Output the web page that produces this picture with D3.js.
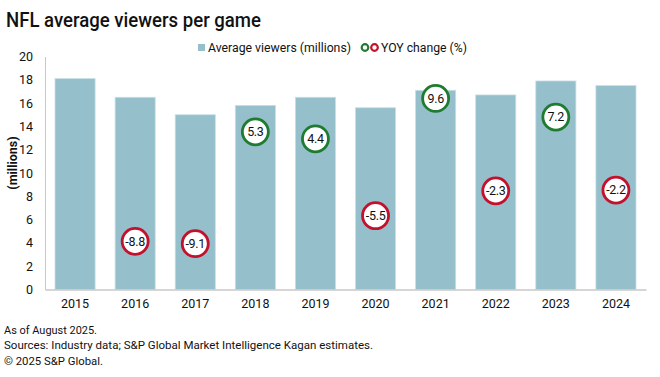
<!DOCTYPE html>
<html lang="en">
<head>
    <meta charset="UTF-8">
    <title>NFL average viewers per game</title>
    <script src="https://d3js.org/d3.v7.min.js"></script>
    <style>
        body { margin: 0; background: #fff; }
        text { font-family: Roboto, "Liberation Sans", sans-serif; fill: #111; }
    </style>
</head>
<body>
    <div id="chart"></div>

    <script>
        const years = ["2015", "2016", "2017", "2018", "2019", "2020", "2021", "2022", "2023", "2024"];
        const viewers = [18.1, 16.5, 15.0, 15.8, 16.5, 15.6, 17.1, 16.7, 17.9, 17.5];
        const yoy = [null, -8.8, -9.1, 5.3, 4.4, -5.5, 9.6, -2.3, 7.2, -2.2];
        const yTicks = [0, 2, 4, 6, 8, 10, 12, 14, 16, 18, 20];

        const width = 660;
        const height = 377;
        const margin = {top: 56.5, right: 14, bottom: 87.5, left: 45};

        const green = "#1e7b30";
        const red = "#c3102c";

        const svg = d3.select("#chart").append("svg")
            .attr("width", width)
            .attr("height", height);

        const x = d3.scaleBand()
            .domain(years)
            .range([margin.left, width - margin.right])
            .paddingInner(0.333)
            .paddingOuter(0.1667);

        const y = d3.scaleLinear()
            .domain([0, 20])
            .range([height - margin.bottom, margin.top]);

        // hidden secondary axis for the YOY circles
        const y2 = d3.scaleLinear()
            .domain([-15, 15])
            .range([height - margin.bottom, margin.top]);

        // title
        svg.append("text")
            .attr("x", 6)
            .attr("y", 27)
            .attr("font-size", 20)
            .attr("font-weight", 500)
            .attr("textLength", 255)
            .attr("lengthAdjust", "spacingAndGlyphs")
            .text("NFL average viewers per game");

        // legend
        const legend = svg.append("g");
        legend.append("rect")
            .attr("x", 198).attr("y", 44)
            .attr("width", 7).attr("height", 7)
            .attr("fill", "#94bfcb");
        legend.append("text")
            .attr("x", 208).attr("y", 52)
            .attr("font-size", 12.5)
            .attr("textLength", 143)
            .attr("lengthAdjust", "spacingAndGlyphs")
            .text("Average viewers (millions)");
        legend.selectAll("circle")
            .data([green, red])
            .enter()
            .append("circle")
            .attr("cx", (d, i) => 365 + i * 9.5)
            .attr("cy", 47.5)
            .attr("r", 3.3)
            .attr("fill", "#fff")
            .attr("stroke", d => d)
            .attr("stroke-width", 2.2);
        legend.append("text")
            .attr("x", 381).attr("y", 52)
            .attr("font-size", 12.5)
            .attr("textLength", 86)
            .attr("lengthAdjust", "spacingAndGlyphs")
            .text("YOY change (%)");

        // bars
        svg.selectAll(".bar")
            .data(viewers)
            .enter()
            .append("rect")
            .attr("class", "bar")
            .attr("x", (d, i) => x(years[i]))
            .attr("y", d => y(d))
            .attr("width", x.bandwidth())
            .attr("height", d => y(0) - y(d))
            .attr("fill", "#94bfcb")
            .attr("stroke", "#c6dfe5")
            .attr("stroke-width", 0.8);

        // axes
        const yAxis = d3.axisLeft(y).tickValues(yTicks).tickSize(0).tickPadding(12);
        const gy = svg.append("g")
            .attr("transform", "translate(" + margin.left + ",0)")
            .call(yAxis);
        gy.select(".domain").attr("stroke", "#c8c8c8");
        gy.selectAll("text").attr("font-size", 12.5).attr("fill", "#111");

        const xAxis = d3.axisBottom(x).tickSize(0).tickPadding(10);
        const gx = svg.append("g")
            .attr("transform", "translate(0," + y(0) + ")")
            .call(xAxis);
        gx.select(".domain").attr("stroke", "#c8c8c8").attr("stroke-width", 1.5);
        gx.selectAll("text").attr("font-size", 12.5).attr("fill", "#111");

        svg.append("text")
            .attr("transform", "translate(17,163) rotate(-90)")
            .attr("text-anchor", "middle")
            .attr("font-size", 12.5)
            .attr("font-weight", 700)
            .text("(millions)");

        // YOY circles
        const yoyData = yoy.map((v, i) => ({year: years[i], value: v})).filter(d => d.value !== null);
        const dots = svg.selectAll(".yoy")
            .data(yoyData)
            .enter()
            .append("g")
            .attr("class", "yoy")
            .attr("transform", d => "translate(" + (x(d.year) + x.bandwidth() / 2) + "," + y2(d.value) + ")");
        dots.append("circle")
            .attr("r", 13)
            .attr("fill", "#fff")
            .attr("stroke", d => d.value < 0 ? red : green)
            .attr("stroke-width", 2.8);
        dots.append("text")
            .attr("text-anchor", "middle")
            .attr("dy", "0.35em")
            .attr("font-size", 12.5)
            .attr("letter-spacing", -0.3)
            .text(d => d.value.toFixed(1));

        // footnotes
        const notes = [
            ["As of August 2025.", 93],
            ["Sources: Industry data; S&P Global Market Intelligence Kagan estimates.", 369],
            ["\u00a9 2025 S&P Global.", 99]
        ];
        svg.selectAll(".note")
            .data(notes)
            .enter()
            .append("text")
            .attr("class", "note")
            .attr("x", 4)
            .attr("y", (d, i) => 334 + i * 15.3)
            .attr("font-size", 11.5)
            .attr("textLength", d => d[1])
            .attr("lengthAdjust", "spacingAndGlyphs")
            .text(d => d[0]);
    </script>
</body>
</html>
